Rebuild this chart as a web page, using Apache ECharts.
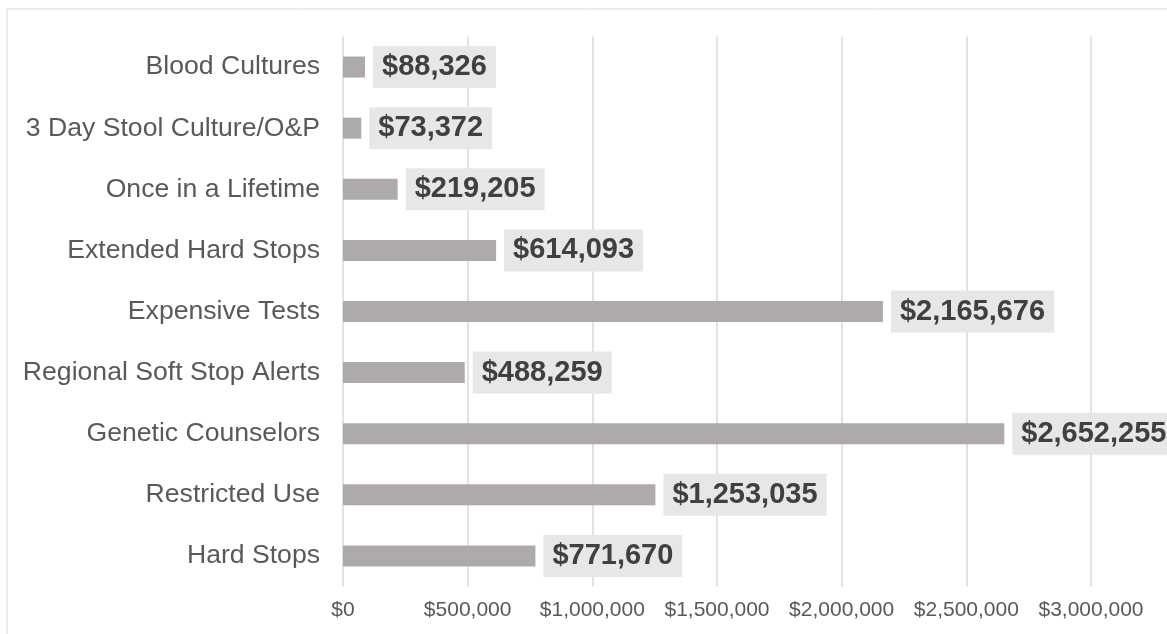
<!DOCTYPE html>
<html>
<head>
<meta charset="utf-8">
<script src="https://cdn.jsdelivr.net/npm/echarts@6/dist/echarts.min.js"></script>
<style>html,body{margin:0;padding:0;background:#fff;}#c{width:1167px;height:634px;}</style>
</head>
<body>
<div id="c"></div>
<script>
const categories = ['Blood Cultures','3 Day Stool Culture/O&P','Once in a Lifetime','Extended Hard Stops','Expensive Tests','Regional Soft Stop Alerts','Genetic Counselors','Restricted Use','Hard Stops'];
const values = [88326, 73372, 219205, 614093, 2165676, 488259, 2652255, 1253035, 771670];
const tickMax = 3000000;
const tickStep = 500000;

const chart = echarts.init(document.getElementById('c'));
chart.setOption({
  animation: false,
  backgroundColor: '#ffffff',
  graphic: [{
    type: 'rect', left: 4.5, top: 6.5,
    shape: { width: 1200, height: 700 },
    style: { fill: 'none', stroke: '#d9d9d9', lineWidth: 1 }
  }],
  grid: { left: 343, right: 76, top: 36.5, bottom: 47.5, containLabel: false },
  xAxis: {
    type: 'value', min: 0, max: tickMax, interval: tickStep,
    axisLine: { show: false }, axisTick: { show: false },
    splitLine: { show: true, lineStyle: { color: '#d9d9d9', width: 1.5 } },
    axisLabel: {
      color: '#595959', fontSize: 21, fontFamily: 'Liberation Sans, Arial, sans-serif', margin: 13,
      formatter: v => '$' + v.toLocaleString('en-US')
    }
  },
  yAxis: {
    type: 'category', data: categories, inverse: true,
    axisLine: { show: false }, axisTick: { show: false },
    axisLabel: { color: '#595959', fontSize: 26.6, fontFamily: 'Liberation Sans, Arial, sans-serif', margin: 23 }
  },
  series: [{
    type: 'bar', data: values, barWidth: 21,
    itemStyle: { color: '#aeaaaa' },
    label: {
      show: true, position: 'right', distance: 8,
      color: '#404040', fontWeight: 'bold', fontSize: 29,
      fontFamily: 'Liberation Sans, Arial, sans-serif',
      backgroundColor: '#e7e7e7', padding: [7, 9, 7, 9], lineHeight: 28,
      formatter: p => '$' + p.value.toLocaleString('en-US')
    }
  }]
});
</script>
</body>
</html>
